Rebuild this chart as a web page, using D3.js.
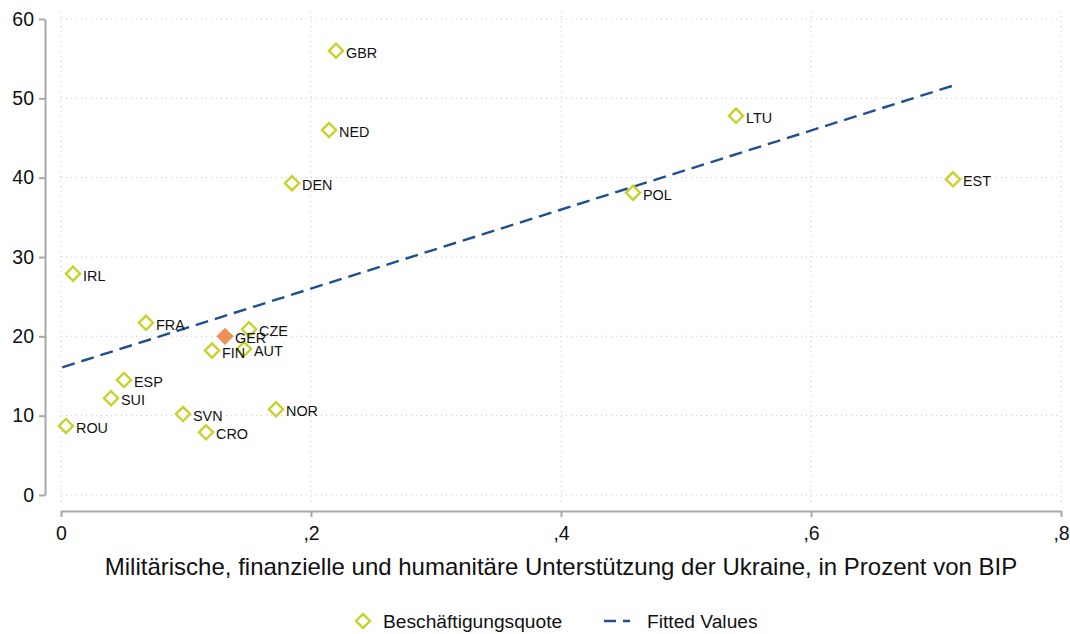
<!DOCTYPE html>
<html><head><meta charset="utf-8">
<script src="https://cdn.jsdelivr.net/npm/d3@7"></script>
<style>body{margin:0;background:#fff}svg{display:block;font-family:"Liberation Sans",Arial,sans-serif}</style>
</head><body><svg id="c" width="1070" height="634"></svg>
<script>
const countries = ["GBR","NED","DEN","LTU","POL","EST","IRL","FRA","GER","CZE","FIN","AUT","ESP","SUI","SVN","NOR","ROU","CRO"];
const support = [0.220,0.2144,0.1848,0.540,0.4576,0.7136,0.0096,0.068,0.1312,0.1504,0.1208,0.1464,0.0504,0.040,0.0976,0.172,0.004,0.116];
const quote = [56.0,46.0,39.3,47.8,38.1,39.8,27.9,21.7,20.0,20.9,18.2,18.4,14.5,12.2,10.2,10.8,8.7,7.9];
const fitX = [0.001,0.7136];
const fitY = [16.1,51.6];
const xTicks = [0,0.2,0.4,0.6,0.8];
const xTickLabels = ["0",",2",",4",",6",",8"];
const yTicks = [0,10,20,30,40,50,60];
const highlight = "GER";

const svg = d3.select("#c");
const x = d3.scaleLinear().domain([0,0.8]).range([61,1061]);
const y = d3.scaleLinear().domain([0,60]).range([495,19]);

// grid
const grid = svg.append("g").attr("stroke","#c8c8c8").attr("stroke-width",1).attr("stroke-dasharray","1,4");
grid.selectAll("line.h").data(yTicks).join("line").attr("x1",x(0)).attr("x2",x(0.8)).attr("y1",d=>y(d)).attr("y2",d=>y(d));
grid.selectAll("line.v").data(xTicks).join("line").attr("class","v").attr("x1",d=>x(d)).attr("x2",d=>x(d)).attr("y1",y(60)-8).attr("y2",y(0)+8);

// axes
const yAxis = d3.axisLeft(y).tickValues(yTicks).tickSize(6).tickPadding(5).tickSizeOuter(0);
const gy = svg.append("g").attr("transform","translate(45,0)").call(yAxis);
const xAxis = d3.axisBottom(x).tickValues(xTicks).tickFormat((d,i)=>xTickLabels[i]).tickSize(6).tickPadding(9).tickSizeOuter(0);
const gx = svg.append("g").attr("transform","translate(0,511)").call(xAxis);
[gx,gy].forEach(g=>{
  g.select(".domain").attr("stroke","#a8a8a8").attr("stroke-width",2);
  g.selectAll(".tick line").attr("stroke","#a8a8a8").attr("stroke-width",2);
  g.selectAll(".tick text").attr("font-size",19.5).attr("fill","#111").attr("font-family","Liberation Sans, Arial, sans-serif");
});

svg.append("text").attr("x",561).attr("y",575).attr("text-anchor","middle").attr("font-size",24).attr("fill","#111")
  .text("Militärische, finanzielle und humanitäre Unterstützung der Ukraine, in Prozent von BIP");

// fitted line
svg.append("path").datum(fitX.map((v,i)=>[v,fitY[i]]))
  .attr("d",d3.line().x(d=>x(d[0])).y(d=>y(d[1])))
  .attr("fill","none").attr("stroke","#1f4f8f").attr("stroke-width",2.4).attr("stroke-dasharray","13,7");

// points
const data = countries.map((c,i)=>({c,xv:support[i],yv:quote[i]}));
const sym = d3.symbol().type(d3.symbolSquare).size(100);
const pts = svg.append("g");
data.filter(d=>d.c!==highlight).forEach(d=>{
  pts.append("path").attr("d",sym()).attr("transform",`translate(${x(d.xv)},${y(d.yv)}) rotate(45)`)
    .attr("fill","none").attr("stroke","#c9d12c").attr("stroke-width",2.4);
});
data.filter(d=>d.c===highlight).forEach(d=>{
  pts.append("path").attr("d",d3.symbol().type(d3.symbolSquare).size(150)()).attr("transform",`translate(${x(d.xv)},${y(d.yv)}) rotate(45)`)
    .attr("fill","#ee9158").attr("stroke","none");
});
svg.append("g").selectAll("text").data(data).join("text")
  .attr("x",d=>x(d.xv)+10).attr("y",d=>y(d.yv)+7).attr("font-size",14.4).attr("fill","#111").text(d=>d.c);

// legend
svg.append("path").attr("d",sym()).attr("transform","translate(363,621) rotate(45)").attr("fill","none").attr("stroke","#c9d12c").attr("stroke-width",2.4);
svg.append("text").attr("x",383).attr("y",628).attr("font-size",19.2).attr("fill","#111").text("Beschäftigungsquote");
svg.append("line").attr("x1",604).attr("x2",630).attr("y1",621).attr("y2",621).attr("stroke","#1f4f8f").attr("stroke-width",2.4).attr("stroke-dasharray","12,7");
svg.append("text").attr("x",647).attr("y",628).attr("font-size",19.2).attr("fill","#111").text("Fitted Values");
</script></body></html>
